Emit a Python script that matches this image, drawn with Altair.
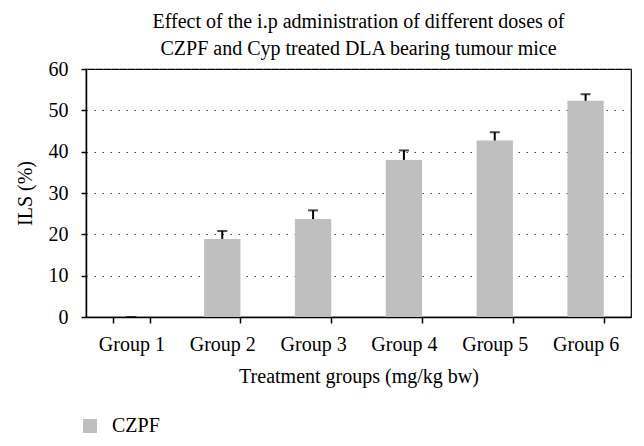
import altair as alt
import pandas as pd

groups = ["Group 1", "Group 2", "Group 3", "Group 4", "Group 5", "Group 6"]
ils = [0.0, 18.9, 23.7, 38.0, 42.7, 52.3]
err = [0.0, 1.9, 2.1, 2.3, 2.0, 1.6]
series_name = "CZPF"
y_ticks = [0, 10, 20, 30, 40, 50, 60]

df = pd.DataFrame({
    "group": groups,
    "ils": ils,
    "upper": [v + e for v, e in zip(ils, err)],
    "series": [series_name] * len(groups),
})

FONT = "Liberation Serif"

x_enc = alt.X(
    "group:N",
    sort=groups,
    scale=alt.Scale(paddingInner=0.6, paddingOuter=0.3),
    axis=alt.Axis(
        title="Treatment groups (mg/kg bw)",
        labelAngle=0,
        tickBand="extent",
        tickSize=6,
        labelPadding=27,
        labelBaseline="alphabetic",
        titleY=65,
        titleBaseline="alphabetic",
    ),
)

y_axis = alt.Axis(
    title="ILS (%)",
    values=y_ticks,
    grid=True,
    gridDash=[1.5, 6.5],
    gridColor="#444444",
    gridWidth=1,
    tickSize=5,
    labelPadding=13,
    titleX=-55,
    titleY=124,
    titleBaseline="alphabetic",
)
y_scale = alt.Scale(domain=[0, 60], nice=False)

base = alt.Chart(df)

bars = base.mark_bar().encode(
    x=x_enc,
    y=alt.Y("ils:Q", scale=y_scale, axis=y_axis),
    color=alt.Color(
        "series:N",
        scale=alt.Scale(range=["#bfbfbf"]),
        legend=alt.Legend(
            title=None,
            orient="none",
            legendX=-6,
            legendY=347,
            symbolType="square",
            symbolSize=196,
            symbolStrokeWidth=0,
            symbolOpacity=1,
            labelOffset=12,
            labelFont=FONT,
            labelFontSize=20,
            labelColor="black",
            padding=0,
        ),
    ),
)

rules = base.mark_rule(color="black", strokeWidth=2).encode(
    x=x_enc,
    y=alt.Y("ils:Q", scale=y_scale, axis=y_axis),
    y2="upper:Q",
)

caps = base.mark_tick(color="black", thickness=2, size=10).encode(
    x=x_enc,
    y=alt.Y("upper:Q", scale=y_scale, axis=y_axis),
)

chart = (
    alt.layer(bars, rules, caps)
    .properties(
        width=545,
        height=248,
        autosize=alt.AutoSizeParams(type="none"),
        padding={"left": 78, "top": 61, "right": 5, "bottom": 120},
        title=alt.TitleParams(
            text=[
                "Effect of the i.p administration of different doses of",
                "CZPF and Cyp treated DLA bearing tumour mice",
            ],
            font=FONT,
            fontSize=20,
            fontWeight="normal",
            color="black",
            lineHeight=27,
            anchor="middle",
            frame="group",
            baseline="bottom",
            offset=9,
            dy=29,
        ),
    )
    .configure_view(stroke="black", strokeWidth=1.2)
    .configure_axis(
        labelFont=FONT,
        labelFontSize=20,
        labelColor="black",
        titleFont=FONT,
        titleFontSize=20,
        titleFontWeight="normal",
        titleColor="black",
        domainColor="black",
        domainWidth=1.5,
        tickColor="black",
        tickWidth=1.5,
    )
)

chart.save("out.html", embed_options={"renderer": "svg", "actions": False})
